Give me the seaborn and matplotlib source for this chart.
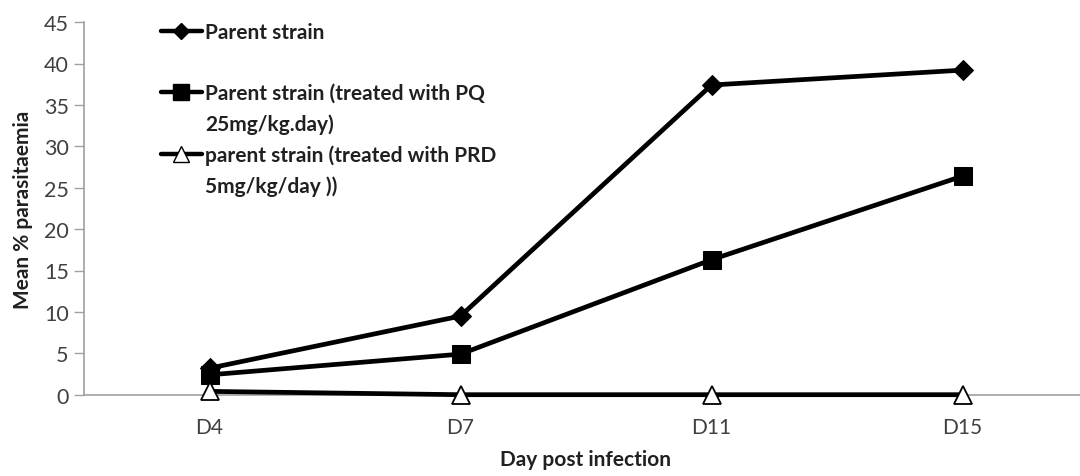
import matplotlib
matplotlib.use("Agg")
import matplotlib.pyplot as plt
import seaborn as sns
import pandas as pd
from matplotlib.lines import Line2D

days = ["D4", "D7", "D11", "D15"]
parent = [3.2, 9.5, 37.4, 39.2]
parent_pq = [2.4, 4.9, 16.3, 26.4]
parent_prd = [0.4, 0.0, 0.0, 0.0]
yticks = [0, 5, 10, 15, 20, 25, 30, 35, 40, 45]

labels = ["Parent strain",
          "Parent strain (treated with PQ\n25mg/kg.day)",
          "parent strain (treated with PRD\n5mg/kg/day ))"]

sns.set_theme(style="white")
plt.rcParams['font.family'] = ['Lato', 'DejaVu Sans']

fig = plt.figure(figsize=(10.8, 4.77), dpi=100)
ax = fig.add_axes([84/1080, 81.3/477, 1004/1080, 372.6/477])

df = pd.DataFrame({"day": days * 3,
                   "val": parent + parent_pq + parent_prd,
                   "series": [labels[0]]*4 + [labels[1]]*4 + [labels[2]]*4})

styles = [dict(marker="D", markersize=10, markerfacecolor="black", markeredgecolor="black"),
          dict(marker="s", markersize=13, markerfacecolor="black", markeredgecolor="black"),
          dict(marker="^", markersize=13, markerfacecolor="white", markeredgecolor="black", markeredgewidth=1.3)]

for lab, st in zip(labels, styles):
    sub = df[df.series == lab]
    sns.lineplot(data=sub, x="day", y="val", ax=ax, color="black", linewidth=3.4,
                 sort=False, legend=False, zorder=3, clip_on=False, **st)

ax.set_xlim(-0.5, 3.5)
ax.set_ylim(0, 45)
ax.set_yticks(yticks)
ax.set_yticklabels([str(v) for v in yticks], fontsize=15.5, color="#404040")
ax.set_xticks(range(len(days)))
ax.set_xticklabels(days, fontsize=15, color="#404040")
ax.tick_params(axis="y", which="major", direction="out", length=7, width=1, color="#a0a0a0", left=True, pad=4)
ax.tick_params(axis="x", length=0, pad=16)

for s in ["top", "right"]:
    ax.spines[s].set_visible(False)
for s in ["left", "bottom"]:
    ax.spines[s].set_color("#a0a0a0")
    ax.spines[s].set_linewidth(1.2)

ax.set_ylabel("Mean % parasitaemia", fontsize=15, fontweight="bold", color="#202020", labelpad=8)
ax.set_xlabel("Day post infection", fontsize=15, fontweight="bold", color="#202020", labelpad=9)

blank = Line2D([], [], linestyle="none", marker="none")
h0 = Line2D([], [], color="black", linewidth=3.2, marker="D", markersize=8, markerfacecolor="black")
h1 = Line2D([], [], color="black", linewidth=3.2, marker="s", markersize=11, markerfacecolor="black")
h2 = Line2D([], [], color="black", linewidth=3.2, marker="^", markersize=11, markerfacecolor="white", markeredgecolor="black")
pq1, pq2 = labels[1].split("\n")
prd1, prd2 = labels[2].split("\n")
handles = [h0, blank, h1, blank, h2, blank]
texts = [labels[0], " ", pq1, pq2, prd1, prd2]
leg = ax.legend(handles, texts, loc="upper left", bbox_to_anchor=(0.068, 1.022), frameon=False,
                handlelength=2.0, handletextpad=0.12, labelspacing=0.5, borderaxespad=0,
                prop={"family": "Lato", "weight": "bold", "size": 15})
for t in leg.get_texts():
    t.set_color("#202020")

fig.savefig("out.png", dpi=100)
